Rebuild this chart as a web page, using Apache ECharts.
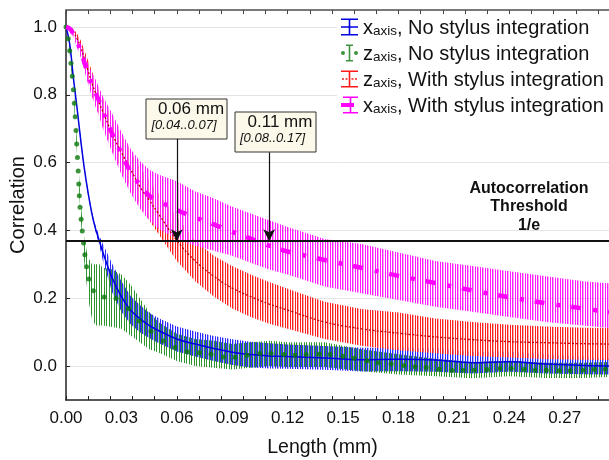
<!DOCTYPE html>
<html>
<head>
<meta charset="utf-8">
<script src="https://cdn.jsdelivr.net/npm/echarts@6/dist/echarts.min.js"></script>
<style>
  html, body { margin: 0; padding: 0; background: #fff; }
  #chart { width: 609px; height: 460px; }
</style>
</head>
<body>
<div id="chart"></div>
<script>
// --- data -------------------------------------------------------------------

// sample lengths (mm) used for the centre lines and error bands
var bandX = [0, 0.002, 0.004, 0.006, 0.008, 0.010, 0.012, 0.014, 0.016, 0.018, 0.020,
             0.025, 0.030, 0.035, 0.040, 0.045, 0.050, 0.060, 0.070, 0.080, 0.090,
             0.100, 0.110, 0.120, 0.140, 0.160, 0.180, 0.200, 0.220, 0.240, 0.260, 0.280, 0.294];

// x axis, no stylus integration (blue)
var xNoMid = [1.0, 0.95, 0.85, 0.76, 0.665, 0.58, 0.51, 0.45, 0.405, 0.37, 0.335,
              0.26, 0.205, 0.165, 0.14, 0.12, 0.105, 0.08, 0.065, 0.052, 0.041,
              0.034, 0.03, 0.028, 0.024, 0.019, 0.02, 0.018, 0.01, 0.013, 0.006, 0.002, 0.0];
var xNoLo = [1.0, 0.945, 0.845, 0.755, 0.66, 0.575, 0.505, 0.445, 0.397, 0.355, 0.31,
             0.218, 0.16, 0.123, 0.10, 0.083, 0.068, 0.043, 0.028, 0.015, 0.003,
             -0.004, -0.007, -0.008, -0.011, -0.016, -0.015, -0.017, -0.022, -0.017, -0.022, -0.024, -0.025];
var xNoHi = [1.0, 0.955, 0.855, 0.765, 0.67, 0.585, 0.515, 0.455, 0.413, 0.385, 0.36,
             0.302, 0.25, 0.207, 0.18, 0.157, 0.142, 0.117, 0.102, 0.089, 0.079,
             0.072, 0.067, 0.064, 0.059, 0.054, 0.055, 0.053, 0.042, 0.043, 0.034, 0.028, 0.022];

// z axis, no stylus integration (green): marker positions and band
var zNoDotX = [0, 0.0012, 0.0020, 0.0027, 0.0034, 0.0040, 0.0045, 0.0050, 0.0054, 0.0058,
               0.0062, 0.0066, 0.0069, 0.0072, 0.0076, 0.0082, 0.0088, 0.0095, 0.0102, 0.0111,
               0.0124, 0.0148, 0.0206, 0.0271, 0.0338, 0.0397, 0.0460, 0.0527, 0.0590, 0.0657,
               0.0722, 0.0785, 0.0852, 0.0915, 0.098, 0.105, 0.111, 0.118, 0.124, 0.130,
               0.137, 0.143, 0.150, 0.156, 0.163, 0.169, 0.176, 0.183, 0.189, 0.195,
               0.202, 0.209, 0.215, 0.221, 0.228, 0.235, 0.241, 0.248, 0.254, 0.260,
               0.267, 0.273, 0.280, 0.286, 0.292];
var zNoDotY = [1.0, 0.965, 0.93, 0.893, 0.855, 0.815, 0.775, 0.735, 0.695, 0.655,
               0.615, 0.575, 0.537, 0.502, 0.468, 0.433, 0.398, 0.363, 0.328, 0.293,
               0.257, 0.222, 0.204, 0.199, 0.169, 0.133, 0.103, 0.074, 0.055, 0.042,
               0.039, 0.035, 0.027, 0.026, 0.032, 0.037, 0.037, 0.034, 0.032, 0.034,
               0.035, 0.034, 0.029, 0.023, 0.016, 0.010, 0.006, 0.002, -0.002, -0.004,
               -0.009, -0.013, -0.012, -0.012, -0.010, -0.007, -0.007, -0.010, -0.012, -0.012,
               -0.014, -0.014, -0.012, -0.010, -0.009];
var zNoLo = [1.0, 0.92, 0.80, 0.62, 0.43, 0.30, 0.20, 0.14, 0.12, 0.12, 0.12,
             0.115, 0.11, 0.09, 0.07, 0.05, 0.04, 0.015, 0.0, -0.005, -0.01,
             -0.005, 0.0, -0.003, -0.003, -0.015, -0.025, -0.03, -0.036, -0.03, -0.035, -0.035, -0.032];
var zNoHi = [1.0, 0.945, 0.83, 0.66, 0.48, 0.37, 0.32, 0.30, 0.30, 0.30, 0.29,
             0.285, 0.27, 0.24, 0.20, 0.16, 0.13, 0.095, 0.08, 0.075, 0.065,
             0.07, 0.075, 0.07, 0.07, 0.05, 0.035, 0.022, 0.012, 0.016, 0.01, 0.01, 0.012];

// z axis, with stylus integration (red)
var zWMid = [1.0, 0.995, 0.985, 0.965, 0.94, 0.905, 0.87, 0.835, 0.805, 0.775, 0.75,
             0.685, 0.63, 0.58, 0.53, 0.49, 0.45, 0.37, 0.31, 0.265, 0.23,
             0.205, 0.183, 0.165, 0.13, 0.11, 0.097, 0.086, 0.078, 0.072, 0.069, 0.066, 0.065];
var zWLo = [1.0, 0.99, 0.975, 0.95, 0.92, 0.88, 0.84, 0.80, 0.77, 0.74, 0.71,
            0.64, 0.58, 0.525, 0.475, 0.43, 0.39, 0.31, 0.25, 0.205, 0.17,
            0.145, 0.125, 0.11, 0.08, 0.06, 0.047, 0.038, 0.03, 0.025, 0.021, 0.019, 0.018];
var zWHi = [1.0, 1.0, 0.995, 0.98, 0.96, 0.93, 0.90, 0.87, 0.84, 0.81, 0.79,
            0.73, 0.68, 0.635, 0.585, 0.55, 0.51, 0.44, 0.37, 0.325, 0.295,
            0.27, 0.248, 0.228, 0.19, 0.168, 0.158, 0.14, 0.13, 0.122, 0.117, 0.113, 0.112];

// x axis, with stylus integration (magenta)
var xWMid = [1.0, 0.995, 0.98, 0.955, 0.93, 0.895, 0.86, 0.83, 0.805, 0.78, 0.75,
             0.685, 0.627, 0.572, 0.535, 0.503, 0.488, 0.46, 0.438, 0.418, 0.396,
             0.376, 0.355, 0.338, 0.313, 0.29, 0.266, 0.245, 0.223, 0.203, 0.185, 0.17, 0.159];
var xWLo = [1.0, 0.99, 0.97, 0.94, 0.91, 0.87, 0.83, 0.795, 0.765, 0.735, 0.70,
            0.63, 0.565, 0.51, 0.465, 0.43, 0.405, 0.375, 0.355, 0.34, 0.325,
            0.305, 0.285, 0.27, 0.235, 0.215, 0.195, 0.175, 0.16, 0.145, 0.13, 0.12, 0.112];
var xWHi = [1.0, 1.0, 0.99, 0.97, 0.95, 0.92, 0.89, 0.865, 0.845, 0.82, 0.795,
            0.745, 0.69, 0.64, 0.605, 0.58, 0.565, 0.545, 0.515, 0.495, 0.47,
            0.45, 0.43, 0.41, 0.375, 0.36, 0.335, 0.31, 0.295, 0.28, 0.265, 0.25, 0.244];

// 1/e threshold and the two marked crossings
var threshold = 0.3679;
var crossX = [0.06, 0.11];
var crossTop = [0.67, 0.63];
var crossText = ['0.06 mm', '0.11 mm'];
var crossRange = ['[0.04..0.07]', '[0.08..0.17]'];

// tick labels
var xLabelVals = [0, 0.03, 0.06, 0.09, 0.12, 0.15, 0.18, 0.21, 0.24, 0.27];
var xTickVals = [0, 0.012, 0.024, 0.036, 0.048, 0.06, 0.072, 0.084, 0.096, 0.108, 0.12, 0.132,
                 0.144, 0.156, 0.168, 0.18, 0.192, 0.204, 0.216, 0.228, 0.24, 0.252, 0.264, 0.276, 0.288];
var yLabelVals = [0, 0.2, 0.4, 0.6, 0.8, 1.0];

// ----------------------------------------------------------------------------

var FONT = '"Liberation Sans", Arial, Helvetica, sans-serif';

function zip(xs, ys) {
	var out = [];
	for (var i = 0; i < xs.length; i++) {
		out.push([xs[i], ys[i]]);
	}
	return out;
}

// vertical hatch, looks like the dense error bars of the original
// cols: list of [column, alpha] in a 5 px wide tile
function hatch(color, cols) {
	var c = document.createElement('canvas');
	c.width = 5;
	c.height = 4;
	var ctx = c.getContext('2d');
	ctx.fillStyle = color;
	for (var i = 0; i < cols.length; i++) {
		ctx.globalAlpha = cols[i][1];
		ctx.fillRect(cols[i][0], 0, 1, 4);
	}
	return { image: c, repeat: 'repeat' };
}

function bandSeries(name, lo, hi, fill) {
	return {
		name: name,
		type: 'custom',
		silent: true,
		clip: true,
		data: [[0, 0]],
		renderItem: function(params, api) {
			var pts = [];
			for (var i = 0; i < bandX.length; i++) {
				pts.push(api.coord([bandX[i], hi[i]]));
			}
			for (var j = bandX.length - 1; j >= 0; j--) {
				pts.push(api.coord([bandX[j], lo[j]]));
			}
			return {
				type: 'polygon',
				shape: { points: pts },
				style: { fill: fill, stroke: null }
			};
		}
	};
}

var legendLabel = {
	'xNo': '{n|x}{s|axis}{n|, No stylus integration}',
	'zNo': '{n|z}{s|axis}{n|, No stylus integration}',
	'zW': '{n|z}{s|axis}{n|, With stylus integration}',
	'xW': '{n|x}{s|axis}{n|, With stylus integration}'
};

var icons = {
	xNo: 'path://M0,0H17V1.6H0Z M7.7,1.6H9.3V15.4H7.7Z M0,15.4H17V17H0Z M0,7.7H17V9.3H0Z',
	zNo: 'path://M5,0H12V1.6H5Z M7.7,1.6H9.3V15.4H7.7Z M5,15.4H12V17H5Z M0,8.5a2,2 0 1,0 4,0a2,2 0 1,0 -4,0Z M13,8.5a2,2 0 1,0 4,0a2,2 0 1,0 -4,0Z',
	zW: 'path://M0,0H17V1.6H0Z M7.7,1.6H9.3V15.4H7.7Z M0,15.4H17V17H0Z M1,7.7H3V9.3H1Z M4.5,7.7H6.5V9.3H4.5Z M10.5,7.7H12.5V9.3H10.5Z M14,7.7H16V9.3H14Z',
	xW: 'path://M2,0H17V1.6H2Z M8.7,1.6H10.3V15.4H8.7Z M2,15.4H17V17H2Z M0,6.6H13V10.4H0Z'
};

var chart = echarts.init(document.getElementById('chart'), null, { renderer: 'canvas' });

var option = {
	animation: false,
	backgroundColor: '#ffffff',
	textStyle: { fontFamily: FONT },
	grid: { left: 66, top: 10, right: 0, bottom: 60, containLabel: false, outerBoundsMode: 'none' },
	xAxis: [
		{
			type: 'value',
			position: 'bottom',
			min: 0,
			max: 0.294,
			axisLine: { show: true, onZero: false, lineStyle: { color: '#222', width: 1.5 } },
			axisTick: { show: true, inside: true, length: 4, customValues: xTickVals, lineStyle: { color: '#222', width: 1 } },
			axisLabel: {
				customValues: xLabelVals,
				fontSize: 17, color: '#111', margin: 10, fontFamily: FONT,
				formatter: function(v) { return v.toFixed(2); }
			},
			splitLine: { show: false },
			name: 'Length (mm)',
			nameLocation: 'middle',
			nameGap: 38,
			nameMoveOverlap: false,
			nameTextStyle: { fontSize: 19.5, color: '#111', fontFamily: FONT, padding: [0, 30, 0, 0] }
		},
		{
			type: 'value',
			position: 'top',
			min: 0,
			max: 0.294,
			axisLine: { show: true, onZero: false, lineStyle: { color: '#7a7a7a', width: 2 } },
			axisTick: { show: true, inside: true, length: 4, customValues: xTickVals, lineStyle: { color: '#444', width: 1 } },
			axisLabel: { show: false },
			splitLine: { show: false }
		}
	],
	yAxis: [
		{
			type: 'value',
			min: -0.1,
			max: 1.05,
			axisLine: { show: true, onZero: false, lineStyle: { color: '#222', width: 1.5 } },
			axisTick: { show: true, inside: true, length: 4, customValues: yLabelVals, lineStyle: { color: '#222' } },
			axisLabel: {
				customValues: yLabelVals,
				fontSize: 17, color: '#111', margin: 9, fontFamily: FONT,
				formatter: function(v) { return v.toFixed(1); }
			},
			splitLine: { show: true, lineStyle: { color: '#e4e4e4', width: 1 } },
			name: 'Correlation',
			nameLocation: 'middle',
			nameGap: 38,
			nameMoveOverlap: false,
			nameTextStyle: { fontSize: 20, color: '#111', fontFamily: FONT }
		}
	],
	legend: {
		orient: 'vertical',
		left: 337,
		top: 15,
		padding: [3, 40, 3, 4],
		backgroundColor: '#ffffff',
		itemWidth: 17,
		itemHeight: 17,
		itemGap: 6,
		selectedMode: false,
		itemStyle: { borderWidth: 0 },
		data: [
			{ name: 'xNo', icon: icons.xNo },
			{ name: 'zNo', icon: icons.zNo },
			{ name: 'zW', icon: icons.zW },
			{ name: 'xW', icon: icons.xW }
		],
		formatter: function(name) { return legendLabel[name]; },
		textStyle: {
			color: '#111',
			rich: {
				n: { fontSize: 20, lineHeight: 22, verticalAlign: 'bottom', fontFamily: FONT, color: '#111' },
				s: { fontSize: 13.5, lineHeight: 11, verticalAlign: 'bottom', fontFamily: FONT, color: '#111' }
			}
		}
	},
	series: [
		bandSeries('zNoBand', zNoLo, zNoHi, hatch('#2e942e', [[1, 1], [4, 1]])),
		bandSeries('xNoBand', xNoLo, xNoHi, hatch('#2a2aff', [[0, 1], [2, 1], [3, 0.35]])),
		bandSeries('zWBand', zWLo, zWHi, hatch('#ff2020', [[0, 1], [2, 1], [3, 0.4]])),
		bandSeries('xWBand', xWLo, xWHi, hatch('#ff1aff', [[0, 1], [2, 1], [3, 0.4]])),
		{
			name: 'xNo',
			type: 'line',
			data: zip(bandX, xNoMid),
			smooth: 0.4,
			showSymbol: false,
			color: '#0000e0',
			lineStyle: { color: '#0000e0', width: 1.5 },
			z: 3,
			markLine: {
				silent: true,
				symbol: ['none', 'none'],
				label: { show: false },
				lineStyle: { color: '#111', width: 1.8, type: 'solid' },
				data: [{ yAxis: threshold }]
			}
		},
		{
			name: 'zNo',
			type: 'scatter',
			data: zip(zNoDotX, zNoDotY),
			symbol: 'circle',
			symbolSize: 5,
			color: '#0b780b',
			itemStyle: { color: '#0b780b' },
			z: 3
		},
		{
			name: 'zW',
			type: 'line',
			data: zip(bandX, zWMid),
			smooth: 0.4,
			showSymbol: false,
			color: '#ff1a1a',
			lineStyle: { color: '#c00000', width: 1.3, type: [2, 2] },
			z: 3
		},
		{
			name: 'xW',
			type: 'line',
			data: zip(bandX, xWMid),
			smooth: 0.4,
			showSymbol: false,
			color: '#ff00ff',
			lineStyle: { color: '#ff00ff', width: 4.5, type: [10, 12, 4, 11], cap: 'butt' },
			z: 4,
			markLine: {
				silent: true,
				symbol: ['none', 'arrow'],
				symbolSize: [9, 12],
				label: { show: false },
				lineStyle: { color: '#111', width: 1.2, type: 'solid' },
				data: [
					[{ coord: [crossX[0], crossTop[0]] }, { coord: [crossX[0], threshold] }],
					[{ coord: [crossX[1], crossTop[1]] }, { coord: [crossX[1], threshold] }]
				]
			}
		}
	],
	graphic: [
		{
			type: 'group',
			z: 100,
			children: [
				{ type: 'rect', shape: { x: 146, y: 99, width: 81, height: 40 },
				  style: { fill: '#fcf8ea', stroke: '#333', lineWidth: 1 } },
				{ type: 'text', x: 191, y: 109,
				  style: { text: crossText[0], font: '17px ' + FONT, fill: '#111', textAlign: 'center', textVerticalAlign: 'middle' } },
				{ type: 'text', x: 184, y: 125,
				  style: { text: crossRange[0], font: 'italic 13px ' + FONT, fill: '#111', textAlign: 'center', textVerticalAlign: 'middle' } },
				{ type: 'rect', shape: { x: 235, y: 112, width: 81, height: 40 },
				  style: { fill: '#fcf8ea', stroke: '#333', lineWidth: 1 } },
				{ type: 'text', x: 280, y: 122.5,
				  style: { text: crossText[1], font: '17px ' + FONT, fill: '#111', textAlign: 'center', textVerticalAlign: 'middle' } },
				{ type: 'text', x: 272.5, y: 138,
				  style: { text: crossRange[1], font: 'italic 13px ' + FONT, fill: '#111', textAlign: 'center', textVerticalAlign: 'middle' } },
				{ type: 'text', x: 529, y: 179,
				  style: { text: 'Autocorrelation\nThreshold\n1/e', font: 'bold 16px ' + FONT, fill: '#111',
				           textAlign: 'center', textVerticalAlign: 'top', lineHeight: 18.5 } }
			]
		}
	]
};

chart.setOption(option);
</script>
</body>
</html>
